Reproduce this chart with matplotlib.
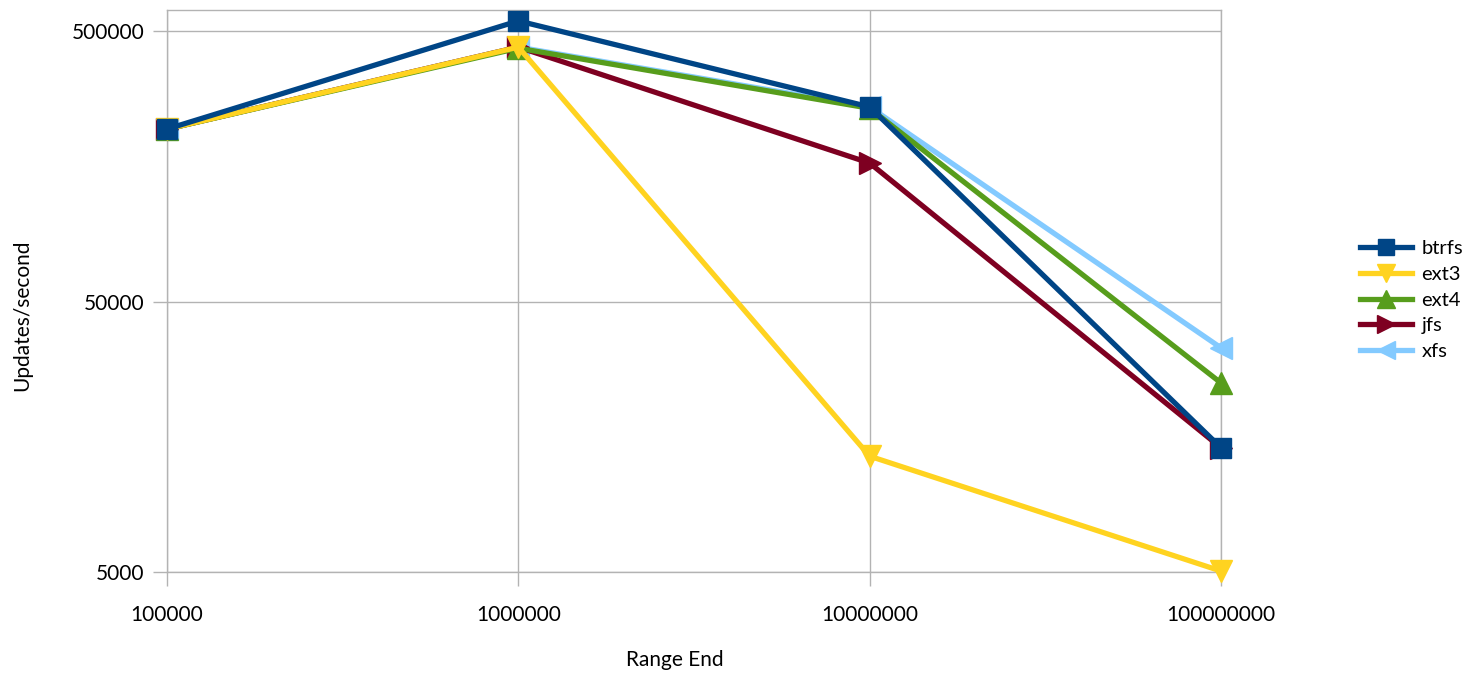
import matplotlib.pyplot as plt
from matplotlib.ticker import FixedLocator, NullLocator, FixedFormatter

plt.rcParams['font.family'] = ['Lato', 'DejaVu Sans']

range_end = [100000, 1000000, 10000000, 100000000]
btrfs = [217000, 545000, 262000, 14400]
ext3 = [217000, 436000, 13400, 5040]
ext4 = [217000, 432000, 259000, 25000]
jfs = [217000, 436000, 162500, 14400]
xfs = [217000, 436000, 262000, 33700]

# name, values, colour, marker (bottom layer first)
series = [
    ("xfs", xfs, "#83caff", "<"),
    ("jfs", jfs, "#7e0021", ">"),
    ("ext4", ext4, "#579d1c", "^"),
    ("ext3", ext3, "#ffd320", "v"),
    ("btrfs", btrfs, "#004586", "s"),
]
legend_order = ["btrfs", "ext3", "ext4", "jfs", "xfs"]

fig = plt.figure(figsize=(14.78, 6.74), dpi=100)
ax = fig.add_axes([167 / 1478, 1 - 572 / 674, (1221 - 167) / 1478, (572 - 10) / 674])

handles = {}
for name, vals, color, marker in series:
    ms = 14 if marker == "s" else 16
    h, = ax.plot(range_end, vals, color=color, lw=3.8, marker=marker,
                 markersize=ms, clip_on=False, label=name, zorder=3)
    handles[name] = h

ax.set_xscale("log")
ax.set_yscale("log")
ax.set_xlim(100000, 100000000)
ax.set_ylim(5000, 598000)

ax.xaxis.set_major_locator(FixedLocator(range_end))
ax.xaxis.set_major_formatter(FixedFormatter([str(v) for v in range_end]))
ax.xaxis.set_minor_locator(NullLocator())
ax.yaxis.set_major_locator(FixedLocator([5000, 50000, 500000]))
ax.yaxis.set_major_formatter(FixedFormatter(["5000", "50000", "500000"]))
ax.yaxis.set_minor_locator(NullLocator())

ax.grid(True, color="#b3b3b3", lw=1)
for s in ax.spines.values():
    s.set_color("#b3b3b3")
    s.set_linewidth(1)
ax.tick_params(axis="both", colors="#b3b3b3", labelcolor="black",
               labelsize=15, length=10, width=1, direction="out")
ax.tick_params(axis="y", pad=6)
ax.tick_params(axis="x", pad=14)

fig.text(675 / 1478, 1 - 660 / 674, "Range End", ha="center", va="center", fontsize=15)
fig.text(22 / 1478, 1 - 315 / 674, "Updates/second", ha="center", va="center",
         rotation=90, fontsize=15)

leg = fig.legend([handles[n] for n in legend_order], legend_order,
                 loc="center left", bbox_to_anchor=(1342 / 1478, 1 - 300 / 674),
                 frameon=False, fontsize=14.5, handlelength=2.6, handletextpad=0.45,
                 labelspacing=0.42, markerscale=0.8)

fig.savefig("out.png", dpi=100)
